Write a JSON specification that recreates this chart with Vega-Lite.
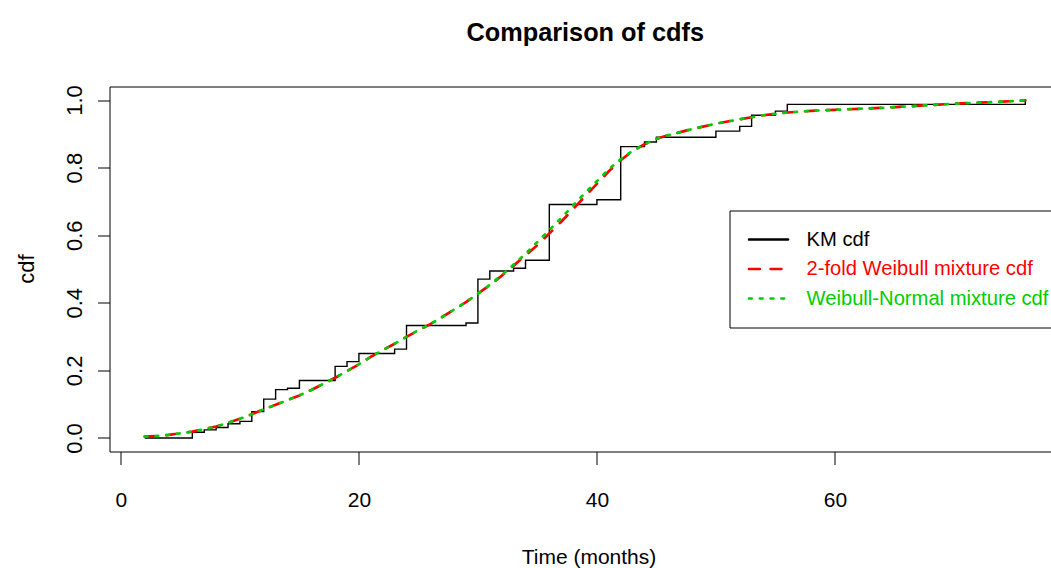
{
  "$schema": "https://vega.github.io/schema/vega-lite/v6.json",
  "width": 941.5,
  "height": 365,
  "autosize": "none",
  "padding": {"left": 109.5, "top": 86.5, "right": 0, "bottom": 116.5},
  "background": "white",
  "title": {"text": "Comparison of cdfs", "font": "Liberation Sans", "fontSize": 25.3, "fontWeight": "bold", "color": "black", "anchor": "middle", "dx": 5, "baseline": "alphabetic", "offset": 18, "frame": "group"},
  "config": {
    "view": {"stroke": "black", "strokeWidth": 1},
    "axis": {"grid": false, "domain": false, "tickColor": "black", "tickWidth": 1, "labelColor": "black", "titleColor": "black", "labelFont": "Liberation Sans", "titleFont": "Liberation Sans", "titleFontWeight": "normal"},
    "legend": {"orient": "none", "legendX": 620, "legendY": 124, "strokeColor": "black", "fillColor": "white", "padding": 18, "cornerRadius": 0, "symbolType": "stroke", "symbolSize": 1521, "symbolStrokeWidth": 2.7, "labelFont": "Liberation Sans", "labelFontSize": 20.2, "labelOffset": 17, "rowPadding": 7.5, "clipHeight": 22, "labelLimit": 500}
  },
  "data": {"values": [
    {"series": "KM cdf", "t": 2, "F": 0},
    {"series": "KM cdf", "t": 6, "F": 0.017},
    {"series": "KM cdf", "t": 7, "F": 0.024},
    {"series": "KM cdf", "t": 8, "F": 0.031},
    {"series": "KM cdf", "t": 9, "F": 0.042},
    {"series": "KM cdf", "t": 10, "F": 0.049},
    {"series": "KM cdf", "t": 11, "F": 0.078},
    {"series": "KM cdf", "t": 12, "F": 0.115},
    {"series": "KM cdf", "t": 13, "F": 0.143},
    {"series": "KM cdf", "t": 14, "F": 0.147},
    {"series": "KM cdf", "t": 15, "F": 0.170},
    {"series": "KM cdf", "t": 18, "F": 0.212},
    {"series": "KM cdf", "t": 19, "F": 0.226},
    {"series": "KM cdf", "t": 20, "F": 0.250},
    {"series": "KM cdf", "t": 23, "F": 0.263},
    {"series": "KM cdf", "t": 24, "F": 0.333},
    {"series": "KM cdf", "t": 29, "F": 0.340},
    {"series": "KM cdf", "t": 30, "F": 0.470},
    {"series": "KM cdf", "t": 31, "F": 0.494},
    {"series": "KM cdf", "t": 33, "F": 0.502},
    {"series": "KM cdf", "t": 34, "F": 0.526},
    {"series": "KM cdf", "t": 36, "F": 0.691},
    {"series": "KM cdf", "t": 40, "F": 0.705},
    {"series": "KM cdf", "t": 42, "F": 0.862},
    {"series": "KM cdf", "t": 44, "F": 0.876},
    {"series": "KM cdf", "t": 45, "F": 0.890},
    {"series": "KM cdf", "t": 50, "F": 0.908},
    {"series": "KM cdf", "t": 52, "F": 0.922},
    {"series": "KM cdf", "t": 53, "F": 0.955},
    {"series": "KM cdf", "t": 55, "F": 0.967},
    {"series": "KM cdf", "t": 56, "F": 0.987},
    {"series": "KM cdf", "t": 76, "F": 1.0},

    {"series": "2-fold Weibull mixture cdf", "t": 2, "F": 0.004},
    {"series": "2-fold Weibull mixture cdf", "t": 3, "F": 0.006},
    {"series": "2-fold Weibull mixture cdf", "t": 4, "F": 0.009},
    {"series": "2-fold Weibull mixture cdf", "t": 5, "F": 0.014},
    {"series": "2-fold Weibull mixture cdf", "t": 6, "F": 0.019},
    {"series": "2-fold Weibull mixture cdf", "t": 7, "F": 0.026},
    {"series": "2-fold Weibull mixture cdf", "t": 8, "F": 0.034},
    {"series": "2-fold Weibull mixture cdf", "t": 9, "F": 0.045},
    {"series": "2-fold Weibull mixture cdf", "t": 10, "F": 0.057},
    {"series": "2-fold Weibull mixture cdf", "t": 11, "F": 0.070},
    {"series": "2-fold Weibull mixture cdf", "t": 12, "F": 0.085},
    {"series": "2-fold Weibull mixture cdf", "t": 13, "F": 0.098},
    {"series": "2-fold Weibull mixture cdf", "t": 14, "F": 0.112},
    {"series": "2-fold Weibull mixture cdf", "t": 15, "F": 0.126},
    {"series": "2-fold Weibull mixture cdf", "t": 16, "F": 0.142},
    {"series": "2-fold Weibull mixture cdf", "t": 17, "F": 0.160},
    {"series": "2-fold Weibull mixture cdf", "t": 18, "F": 0.178},
    {"series": "2-fold Weibull mixture cdf", "t": 19, "F": 0.198},
    {"series": "2-fold Weibull mixture cdf", "t": 20, "F": 0.218},
    {"series": "2-fold Weibull mixture cdf", "t": 21, "F": 0.240},
    {"series": "2-fold Weibull mixture cdf", "t": 22, "F": 0.260},
    {"series": "2-fold Weibull mixture cdf", "t": 23, "F": 0.279},
    {"series": "2-fold Weibull mixture cdf", "t": 24, "F": 0.299},
    {"series": "2-fold Weibull mixture cdf", "t": 25, "F": 0.319},
    {"series": "2-fold Weibull mixture cdf", "t": 26, "F": 0.337},
    {"series": "2-fold Weibull mixture cdf", "t": 27, "F": 0.358},
    {"series": "2-fold Weibull mixture cdf", "t": 28, "F": 0.380},
    {"series": "2-fold Weibull mixture cdf", "t": 29, "F": 0.402},
    {"series": "2-fold Weibull mixture cdf", "t": 30, "F": 0.427},
    {"series": "2-fold Weibull mixture cdf", "t": 31, "F": 0.452},
    {"series": "2-fold Weibull mixture cdf", "t": 32, "F": 0.480},
    {"series": "2-fold Weibull mixture cdf", "t": 33, "F": 0.510},
    {"series": "2-fold Weibull mixture cdf", "t": 34, "F": 0.540},
    {"series": "2-fold Weibull mixture cdf", "t": 35, "F": 0.571},
    {"series": "2-fold Weibull mixture cdf", "t": 36, "F": 0.605},
    {"series": "2-fold Weibull mixture cdf", "t": 37, "F": 0.640},
    {"series": "2-fold Weibull mixture cdf", "t": 38, "F": 0.677},
    {"series": "2-fold Weibull mixture cdf", "t": 39, "F": 0.715},
    {"series": "2-fold Weibull mixture cdf", "t": 40, "F": 0.752},
    {"series": "2-fold Weibull mixture cdf", "t": 41, "F": 0.789},
    {"series": "2-fold Weibull mixture cdf", "t": 42, "F": 0.822},
    {"series": "2-fold Weibull mixture cdf", "t": 43, "F": 0.849},
    {"series": "2-fold Weibull mixture cdf", "t": 44, "F": 0.869},
    {"series": "2-fold Weibull mixture cdf", "t": 45, "F": 0.885},
    {"series": "2-fold Weibull mixture cdf", "t": 46, "F": 0.896},
    {"series": "2-fold Weibull mixture cdf", "t": 47, "F": 0.905},
    {"series": "2-fold Weibull mixture cdf", "t": 48, "F": 0.914},
    {"series": "2-fold Weibull mixture cdf", "t": 49, "F": 0.922},
    {"series": "2-fold Weibull mixture cdf", "t": 50, "F": 0.930},
    {"series": "2-fold Weibull mixture cdf", "t": 52, "F": 0.943},
    {"series": "2-fold Weibull mixture cdf", "t": 54, "F": 0.955},
    {"series": "2-fold Weibull mixture cdf", "t": 56, "F": 0.963},
    {"series": "2-fold Weibull mixture cdf", "t": 58, "F": 0.968},
    {"series": "2-fold Weibull mixture cdf", "t": 60, "F": 0.971},
    {"series": "2-fold Weibull mixture cdf", "t": 62, "F": 0.974},
    {"series": "2-fold Weibull mixture cdf", "t": 64, "F": 0.977},
    {"series": "2-fold Weibull mixture cdf", "t": 66, "F": 0.981},
    {"series": "2-fold Weibull mixture cdf", "t": 68, "F": 0.985},
    {"series": "2-fold Weibull mixture cdf", "t": 70, "F": 0.989},
    {"series": "2-fold Weibull mixture cdf", "t": 72, "F": 0.992},
    {"series": "2-fold Weibull mixture cdf", "t": 74, "F": 0.995},
    {"series": "2-fold Weibull mixture cdf", "t": 76, "F": 0.999},

    {"series": "Weibull-Normal mixture cdf", "t": 2, "F": 0.004},
    {"series": "Weibull-Normal mixture cdf", "t": 3, "F": 0.006},
    {"series": "Weibull-Normal mixture cdf", "t": 4, "F": 0.009},
    {"series": "Weibull-Normal mixture cdf", "t": 5, "F": 0.014},
    {"series": "Weibull-Normal mixture cdf", "t": 6, "F": 0.019},
    {"series": "Weibull-Normal mixture cdf", "t": 7, "F": 0.026},
    {"series": "Weibull-Normal mixture cdf", "t": 8, "F": 0.034},
    {"series": "Weibull-Normal mixture cdf", "t": 9, "F": 0.045},
    {"series": "Weibull-Normal mixture cdf", "t": 10, "F": 0.057},
    {"series": "Weibull-Normal mixture cdf", "t": 11, "F": 0.070},
    {"series": "Weibull-Normal mixture cdf", "t": 12, "F": 0.085},
    {"series": "Weibull-Normal mixture cdf", "t": 13, "F": 0.098},
    {"series": "Weibull-Normal mixture cdf", "t": 14, "F": 0.112},
    {"series": "Weibull-Normal mixture cdf", "t": 15, "F": 0.126},
    {"series": "Weibull-Normal mixture cdf", "t": 16, "F": 0.142},
    {"series": "Weibull-Normal mixture cdf", "t": 17, "F": 0.160},
    {"series": "Weibull-Normal mixture cdf", "t": 18, "F": 0.178},
    {"series": "Weibull-Normal mixture cdf", "t": 19, "F": 0.198},
    {"series": "Weibull-Normal mixture cdf", "t": 20, "F": 0.218},
    {"series": "Weibull-Normal mixture cdf", "t": 21, "F": 0.240},
    {"series": "Weibull-Normal mixture cdf", "t": 22, "F": 0.260},
    {"series": "Weibull-Normal mixture cdf", "t": 23, "F": 0.279},
    {"series": "Weibull-Normal mixture cdf", "t": 24, "F": 0.299},
    {"series": "Weibull-Normal mixture cdf", "t": 25, "F": 0.319},
    {"series": "Weibull-Normal mixture cdf", "t": 26, "F": 0.337},
    {"series": "Weibull-Normal mixture cdf", "t": 27, "F": 0.358},
    {"series": "Weibull-Normal mixture cdf", "t": 28, "F": 0.380},
    {"series": "Weibull-Normal mixture cdf", "t": 29, "F": 0.402},
    {"series": "Weibull-Normal mixture cdf", "t": 30, "F": 0.427},
    {"series": "Weibull-Normal mixture cdf", "t": 31, "F": 0.453},
    {"series": "Weibull-Normal mixture cdf", "t": 32, "F": 0.482},
    {"series": "Weibull-Normal mixture cdf", "t": 33, "F": 0.513},
    {"series": "Weibull-Normal mixture cdf", "t": 34, "F": 0.545},
    {"series": "Weibull-Normal mixture cdf", "t": 35, "F": 0.580},
    {"series": "Weibull-Normal mixture cdf", "t": 36, "F": 0.615},
    {"series": "Weibull-Normal mixture cdf", "t": 37, "F": 0.651},
    {"series": "Weibull-Normal mixture cdf", "t": 38, "F": 0.688},
    {"series": "Weibull-Normal mixture cdf", "t": 39, "F": 0.725},
    {"series": "Weibull-Normal mixture cdf", "t": 40, "F": 0.760},
    {"series": "Weibull-Normal mixture cdf", "t": 41, "F": 0.795},
    {"series": "Weibull-Normal mixture cdf", "t": 42, "F": 0.825},
    {"series": "Weibull-Normal mixture cdf", "t": 43, "F": 0.850},
    {"series": "Weibull-Normal mixture cdf", "t": 44, "F": 0.869},
    {"series": "Weibull-Normal mixture cdf", "t": 45, "F": 0.885},
    {"series": "Weibull-Normal mixture cdf", "t": 46, "F": 0.896},
    {"series": "Weibull-Normal mixture cdf", "t": 47, "F": 0.905},
    {"series": "Weibull-Normal mixture cdf", "t": 48, "F": 0.914},
    {"series": "Weibull-Normal mixture cdf", "t": 49, "F": 0.922},
    {"series": "Weibull-Normal mixture cdf", "t": 50, "F": 0.930},
    {"series": "Weibull-Normal mixture cdf", "t": 52, "F": 0.943},
    {"series": "Weibull-Normal mixture cdf", "t": 54, "F": 0.955},
    {"series": "Weibull-Normal mixture cdf", "t": 56, "F": 0.963},
    {"series": "Weibull-Normal mixture cdf", "t": 58, "F": 0.968},
    {"series": "Weibull-Normal mixture cdf", "t": 60, "F": 0.971},
    {"series": "Weibull-Normal mixture cdf", "t": 62, "F": 0.974},
    {"series": "Weibull-Normal mixture cdf", "t": 64, "F": 0.977},
    {"series": "Weibull-Normal mixture cdf", "t": 66, "F": 0.981},
    {"series": "Weibull-Normal mixture cdf", "t": 68, "F": 0.985},
    {"series": "Weibull-Normal mixture cdf", "t": 70, "F": 0.989},
    {"series": "Weibull-Normal mixture cdf", "t": 72, "F": 0.992},
    {"series": "Weibull-Normal mixture cdf", "t": 74, "F": 0.995},
    {"series": "Weibull-Normal mixture cdf", "t": 76, "F": 0.999}
  ]},
  "encoding": {
    "x": {"field": "t", "type": "quantitative", "scale": {"domain": [-0.96, 78.16], "nice": false, "zero": false},
      "axis": {"values": [0, 20, 40, 60], "title": "Time (months)", "tickSize": 13, "labelFontSize": 21, "labelPadding": 42, "labelBaseline": "alphabetic", "labelFlush": false, "titleFontSize": 21, "titleBaseline": "alphabetic", "titleX": 479, "titleY": 112, "titleAlign": "center"}},
    "y": {"field": "F", "type": "quantitative", "scale": {"domain": [-0.04, 1.04], "nice": false, "zero": false},
      "axis": {"values": [0, 0.2, 0.4, 0.6, 0.8, 1.0], "format": ".1f", "title": "cdf", "tickSize": 12, "labelFontSize": 22, "labelAngle": 270, "labelAlign": "center", "labelBaseline": "alphabetic", "labelPadding": 16, "labelFlush": false, "titleFontSize": 22, "titleAngle": 270, "titleAlign": "center", "titleBaseline": "alphabetic", "titleX": -76.5, "titleY": 182}},
    "color": {"field": "series", "type": "nominal",
      "scale": {"domain": ["KM cdf", "2-fold Weibull mixture cdf", "Weibull-Normal mixture cdf"], "range": ["#000000", "#ff0000", "#00cd00"]},
      "legend": {"title": null, "encode": {"labels": {"update": {"fill": {"signal": "datum.value === 'KM cdf' ? '#000000' : datum.value === '2-fold Weibull mixture cdf' ? '#ff0000' : '#00cd00'"}}}, "symbols": {"update": {"strokeCap": {"value": "round"}}}}}},
    "strokeDash": {"field": "series", "type": "nominal",
      "scale": {"domain": ["KM cdf", "2-fold Weibull mixture cdf", "Weibull-Normal mixture cdf"], "range": [[1, 0], [10.8, 10.8], [2.7, 8.1]]},
      "legend": {"title": null}}
  },
  "layer": [
    {"transform": [{"filter": "datum.series === 'KM cdf'"}], "mark": {"type": "line", "interpolate": "step-after", "strokeWidth": 1.4}},
    {"transform": [{"filter": "datum.series === '2-fold Weibull mixture cdf'"}], "mark": {"type": "line", "strokeWidth": 2.7, "strokeCap": "round"}},
    {"transform": [{"filter": "datum.series === 'Weibull-Normal mixture cdf'"}], "mark": {"type": "line", "strokeWidth": 2.7, "strokeCap": "round"}}
  ]
}
